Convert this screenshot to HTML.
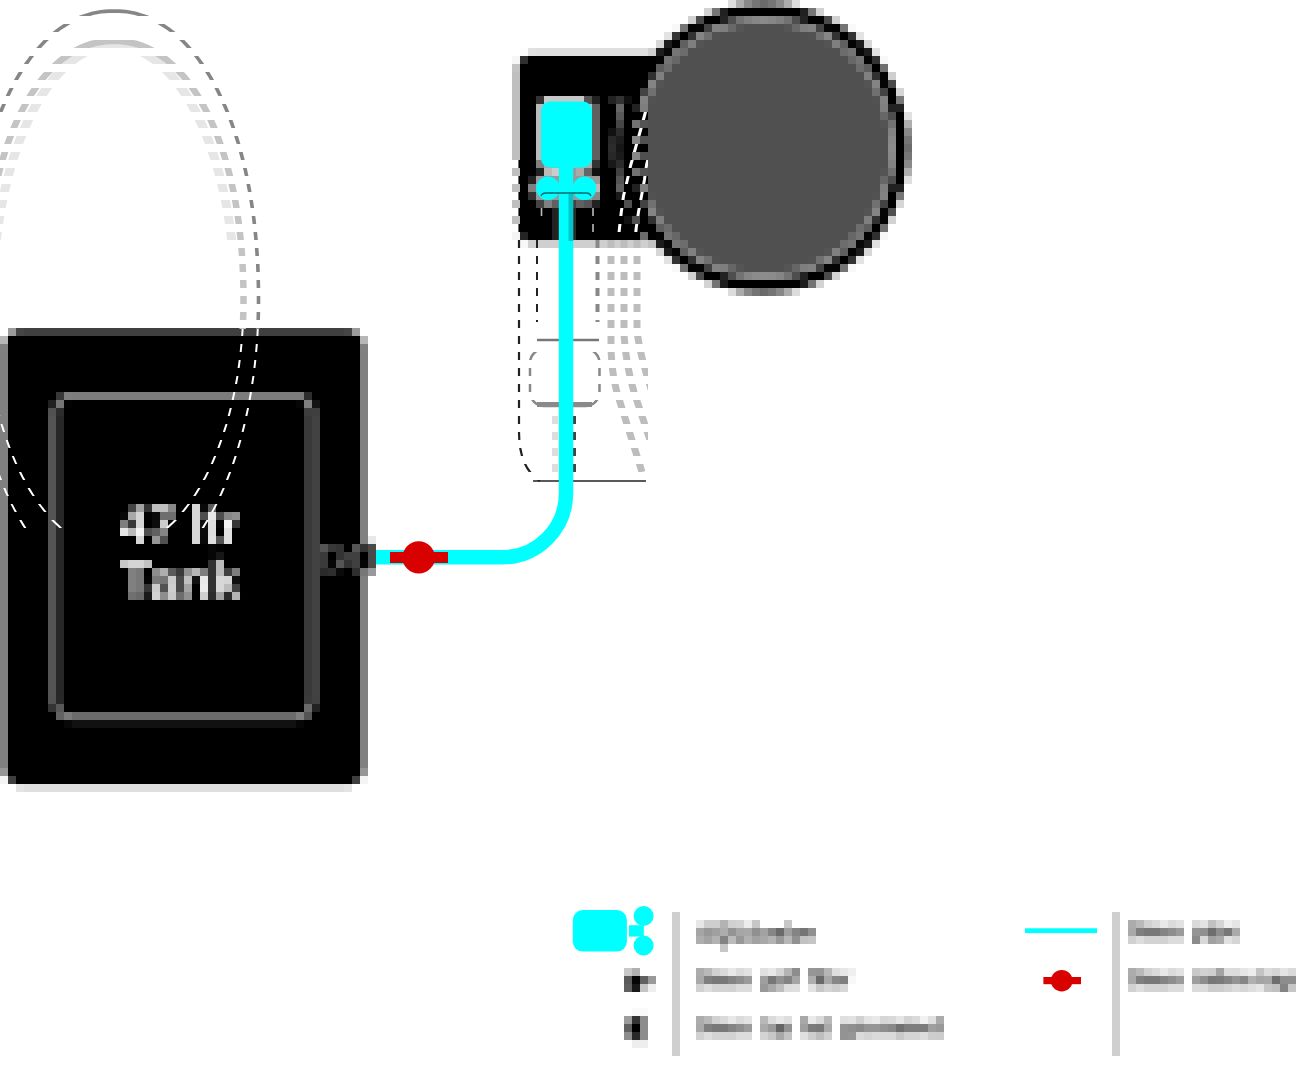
<!DOCTYPE html>
<html lang="en"><head><meta charset="utf-8"><title>47 ltr Tank layout</title>
<style>html,body{margin:0;padding:0;background:#fff;overflow:hidden}svg{display:block}</style></head>
<body>
<svg width="1296" height="1071" viewBox="0 0 1296 1071">
<defs>
<filter id="px" filterUnits="userSpaceOnUse" x="0" y="0" width="1296" height="1072" color-interpolation-filters="sRGB">
<feConvolveMatrix in="SourceGraphic" order="8 1" kernelMatrix="1 1 1 1 1 1 1 1" divisor="8" targetX="3" targetY="0" edgeMode="duplicate" preserveAlpha="false" result="bx"/>
<feConvolveMatrix in="bx" order="1 8" kernelMatrix="1 1 1 1 1 1 1 1" divisor="8" targetX="0" targetY="3" edgeMode="duplicate" preserveAlpha="false" result="blur"/>
<feFlood x="3" y="3" width="1" height="1" flood-color="#000" result="dot"/>
<feComposite in="dot" in2="dot" operator="over" x="0" y="0" width="8" height="8" result="cell"/>
<feTile in="cell" x="0" y="0" width="1296" height="1072" result="grid"/>
<feComposite in="blur" in2="grid" operator="in" result="samp"/>
<feMorphology in="samp" operator="dilate" radius="3" result="d7"/>
<feOffset in="d7" dx="1" dy="0" result="o1"/>
<feOffset in="d7" dx="0" dy="1" result="o2"/>
<feOffset in="d7" dx="1" dy="1" result="o3"/>
<feMerge><feMergeNode in="o3"/><feMergeNode in="o2"/><feMergeNode in="o1"/><feMergeNode in="d7"/></feMerge>
</filter>
<pattern id="pOdd" patternUnits="userSpaceOnUse" x="0" y="0" width="16" height="16"><rect x="0" y="8" width="16" height="8" fill="#fff"/></pattern>
<pattern id="pEven" patternUnits="userSpaceOnUse" x="0" y="0" width="16" height="16"><rect x="0" y="0" width="16" height="8" fill="#fff"/></pattern>
<mask id="stripeOdd" maskUnits="userSpaceOnUse" x="0" y="0" width="1296" height="1071"><rect width="1296" height="1071" fill="url(#pOdd)"/></mask>
<mask id="stripeEven" maskUnits="userSpaceOnUse" x="0" y="0" width="1296" height="1071"><rect width="1296" height="1071" fill="url(#pEven)"/></mask>
<clipPath id="outsideTank"><rect x="0" y="0" width="400" height="329"/></clipPath>
<clipPath id="insideTank"><rect x="0" y="329" width="360" height="199"/></clipPath>
<clipPath id="potclip"><rect x="600" y="240" width="48" height="240"/></clipPath>
<clipPath id="boxclip"><rect x="600" y="104" width="48" height="136"/></clipPath>
</defs>
<g filter="url(#px)">
<rect x="0" y="0" width="1296" height="1072" fill="#fff"/>
<rect x="4" y="330" width="360" height="455" rx="17" fill="#000"/>
<rect x="55" y="396" width="257.2" height="322" rx="17" fill="none" stroke="#b4b4b4" stroke-width="5.5"/>
<text x="180" y="544" font-family="Liberation Sans, Arial, sans-serif" font-size="55" font-weight="bold" fill="#fff" text-anchor="middle" textLength="121" lengthAdjust="spacingAndGlyphs">47 ltr</text>
<text x="180" y="599" font-family="Liberation Sans, Arial, sans-serif" font-size="55" font-weight="bold" fill="#fff" text-anchor="middle" textLength="121" lengthAdjust="spacingAndGlyphs">Tank</text>
<rect x="360" y="536" width="8" height="8" fill="#808080"/><rect x="368" y="536" width="8" height="8" fill="#e8e8e8"/><rect x="320" y="544" width="8" height="8" fill="#555"/><rect x="328" y="544" width="8" height="8" fill="#383838"/><rect x="336" y="544" width="8" height="8" fill="#333"/><rect x="344" y="544" width="8" height="8" fill="#000"/><rect x="352" y="544" width="8" height="8" fill="#555"/><rect x="360" y="544" width="8" height="8" fill="#333"/><rect x="368" y="544" width="8" height="8" fill="#4a4a4a"/><rect x="320" y="552" width="8" height="8" fill="#3a3a3a"/><rect x="328" y="552" width="8" height="8" fill="#000"/><rect x="336" y="552" width="8" height="8" fill="#333"/><rect x="344" y="552" width="8" height="8" fill="#404040"/><rect x="352" y="552" width="8" height="8" fill="#404040"/><rect x="360" y="552" width="8" height="8" fill="#000"/><rect x="368" y="552" width="8" height="8" fill="#4a4a4a"/><rect x="320" y="560" width="8" height="8" fill="#3a3a3a"/><rect x="328" y="560" width="8" height="8" fill="#060606"/><rect x="336" y="560" width="8" height="8" fill="#555"/><rect x="344" y="560" width="8" height="8" fill="#333"/><rect x="352" y="560" width="8" height="8" fill="#404040"/><rect x="360" y="560" width="8" height="8" fill="#050505"/><rect x="368" y="560" width="8" height="8" fill="#4a4a4a"/><rect x="320" y="568" width="8" height="8" fill="#2a2a2a"/><rect x="328" y="568" width="8" height="8" fill="#2e2e2e"/><rect x="336" y="568" width="8" height="8" fill="#0a0a0a"/><rect x="344" y="568" width="8" height="8" fill="#000"/><rect x="352" y="568" width="8" height="8" fill="#2e2e2e"/><rect x="360" y="568" width="8" height="8" fill="#777"/><rect x="368" y="568" width="8" height="8" fill="#999"/>
<rect x="518" y="55" width="160" height="186.5" rx="13" fill="#000"/>
<rect x="536" y="96" width="8" height="8" fill="#333"/><rect x="544" y="96" width="8" height="8" fill="#c8c8c8"/><rect x="552" y="96" width="8" height="8" fill="#c8c8c8"/><rect x="560" y="96" width="8" height="8" fill="#c8c8c8"/><rect x="568" y="96" width="8" height="8" fill="#c8c8c8"/><rect x="576" y="96" width="8" height="8" fill="#c8c8c8"/><rect x="584" y="96" width="8" height="8" fill="#555"/><rect x="592" y="96" width="8" height="8" fill="#222"/><rect x="536" y="104" width="8" height="8" fill="#bbb"/><rect x="544" y="104" width="8" height="8" fill="#bbb"/><rect x="552" y="104" width="8" height="8" fill="#bbb"/><rect x="560" y="104" width="8" height="8" fill="#bbb"/><rect x="568" y="104" width="8" height="8" fill="#bbb"/><rect x="576" y="104" width="8" height="8" fill="#bbb"/><rect x="584" y="104" width="8" height="8" fill="#bbb"/><rect x="592" y="104" width="8" height="8" fill="#606060"/><rect x="536" y="112" width="8" height="8" fill="#bbb"/><rect x="544" y="112" width="8" height="8" fill="#bbb"/><rect x="552" y="112" width="8" height="8" fill="#bbb"/><rect x="560" y="112" width="8" height="8" fill="#bbb"/><rect x="568" y="112" width="8" height="8" fill="#bbb"/><rect x="576" y="112" width="8" height="8" fill="#bbb"/><rect x="584" y="112" width="8" height="8" fill="#bbb"/><rect x="592" y="112" width="8" height="8" fill="#606060"/><rect x="536" y="120" width="8" height="8" fill="#bbb"/><rect x="544" y="120" width="8" height="8" fill="#bbb"/><rect x="552" y="120" width="8" height="8" fill="#bbb"/><rect x="560" y="120" width="8" height="8" fill="#bbb"/><rect x="568" y="120" width="8" height="8" fill="#bbb"/><rect x="576" y="120" width="8" height="8" fill="#bbb"/><rect x="584" y="120" width="8" height="8" fill="#bbb"/><rect x="592" y="120" width="8" height="8" fill="#606060"/><rect x="536" y="128" width="8" height="8" fill="#bbb"/><rect x="544" y="128" width="8" height="8" fill="#bbb"/><rect x="552" y="128" width="8" height="8" fill="#bbb"/><rect x="560" y="128" width="8" height="8" fill="#bbb"/><rect x="568" y="128" width="8" height="8" fill="#bbb"/><rect x="576" y="128" width="8" height="8" fill="#bbb"/><rect x="584" y="128" width="8" height="8" fill="#bbb"/><rect x="592" y="128" width="8" height="8" fill="#606060"/><rect x="536" y="136" width="8" height="8" fill="#bbb"/><rect x="544" y="136" width="8" height="8" fill="#bbb"/><rect x="552" y="136" width="8" height="8" fill="#bbb"/><rect x="560" y="136" width="8" height="8" fill="#bbb"/><rect x="568" y="136" width="8" height="8" fill="#bbb"/><rect x="576" y="136" width="8" height="8" fill="#bbb"/><rect x="584" y="136" width="8" height="8" fill="#bbb"/><rect x="592" y="136" width="8" height="8" fill="#606060"/><rect x="536" y="144" width="8" height="8" fill="#bbb"/><rect x="544" y="144" width="8" height="8" fill="#bbb"/><rect x="552" y="144" width="8" height="8" fill="#bbb"/><rect x="560" y="144" width="8" height="8" fill="#bbb"/><rect x="568" y="144" width="8" height="8" fill="#bbb"/><rect x="576" y="144" width="8" height="8" fill="#bbb"/><rect x="584" y="144" width="8" height="8" fill="#bbb"/><rect x="592" y="144" width="8" height="8" fill="#606060"/><rect x="536" y="152" width="8" height="8" fill="#bbb"/><rect x="544" y="152" width="8" height="8" fill="#bbb"/><rect x="552" y="152" width="8" height="8" fill="#bbb"/><rect x="560" y="152" width="8" height="8" fill="#bbb"/><rect x="568" y="152" width="8" height="8" fill="#bbb"/><rect x="576" y="152" width="8" height="8" fill="#bbb"/><rect x="584" y="152" width="8" height="8" fill="#bbb"/><rect x="592" y="152" width="8" height="8" fill="#606060"/><rect x="536" y="160" width="8" height="8" fill="#808080"/><rect x="544" y="160" width="8" height="8" fill="#aaa"/><rect x="552" y="160" width="8" height="8" fill="#aaa"/><rect x="560" y="160" width="8" height="8" fill="#aaa"/><rect x="568" y="160" width="8" height="8" fill="#aaa"/><rect x="576" y="160" width="8" height="8" fill="#aaa"/><rect x="584" y="160" width="8" height="8" fill="#aaa"/><rect x="592" y="160" width="8" height="8" fill="#333"/><rect x="536" y="168" width="8" height="8" fill="#222"/><rect x="544" y="168" width="8" height="8" fill="#bbb"/><rect x="552" y="168" width="8" height="8" fill="#ccc"/><rect x="560" y="168" width="8" height="8" fill="#999"/><rect x="568" y="168" width="8" height="8" fill="#999"/><rect x="576" y="168" width="8" height="8" fill="#aaa"/><rect x="584" y="168" width="8" height="8" fill="#666"/><rect x="592" y="168" width="8" height="8" fill="#111"/><rect x="528" y="176" width="8" height="8" fill="#222"/><rect x="536" y="176" width="8" height="8" fill="#999"/><rect x="544" y="176" width="8" height="8" fill="#999"/><rect x="552" y="176" width="8" height="8" fill="#999"/><rect x="560" y="176" width="8" height="8" fill="#999"/><rect x="568" y="176" width="8" height="8" fill="#999"/><rect x="576" y="176" width="8" height="8" fill="#999"/><rect x="584" y="176" width="8" height="8" fill="#999"/><rect x="592" y="176" width="8" height="8" fill="#999"/><rect x="528" y="184" width="8" height="8" fill="#808080"/><rect x="536" y="184" width="8" height="8" fill="#aaa"/><rect x="544" y="184" width="8" height="8" fill="#aaa"/><rect x="552" y="184" width="8" height="8" fill="#aaa"/><rect x="560" y="184" width="8" height="8" fill="#aaa"/><rect x="568" y="184" width="8" height="8" fill="#aaa"/><rect x="576" y="184" width="8" height="8" fill="#aaa"/><rect x="584" y="184" width="8" height="8" fill="#aaa"/><rect x="592" y="184" width="8" height="8" fill="#bbb"/><rect x="528" y="192" width="8" height="8" fill="#333"/><rect x="536" y="192" width="8" height="8" fill="#999"/><rect x="544" y="192" width="8" height="8" fill="#999"/><rect x="552" y="192" width="8" height="8" fill="#999"/><rect x="560" y="192" width="8" height="8" fill="#999"/><rect x="568" y="192" width="8" height="8" fill="#999"/><rect x="576" y="192" width="8" height="8" fill="#999"/><rect x="584" y="192" width="8" height="8" fill="#999"/><rect x="592" y="192" width="8" height="8" fill="#888"/><rect x="536" y="200" width="8" height="8" fill="#444"/><rect x="544" y="200" width="8" height="8" fill="#808080"/><rect x="552" y="200" width="8" height="8" fill="#606060"/><rect x="560" y="200" width="8" height="8" fill="#444"/><rect x="568" y="200" width="8" height="8" fill="#444"/><rect x="576" y="200" width="8" height="8" fill="#606060"/><rect x="584" y="200" width="8" height="8" fill="#555"/><rect x="592" y="200" width="8" height="8" fill="#222"/>
<rect x="552" y="208" width="8" height="32" fill="#222"/><rect x="568" y="208" width="8" height="32" fill="#2a2a2a"/>
<rect x="608" y="96" width="8" height="8" fill="#222"/><rect x="616" y="96" width="8" height="8" fill="#333"/><rect x="624" y="96" width="8" height="8" fill="#222"/><rect x="632" y="96" width="8" height="8" fill="#444"/><rect x="640" y="96" width="8" height="8" fill="#888"/><rect x="616" y="104" width="8" height="8" fill="#666"/><rect x="632" y="104" width="8" height="8" fill="#606060"/><rect x="640" y="104" width="8" height="8" fill="#585858"/><rect x="616" y="112" width="8" height="8" fill="#666"/><rect x="632" y="112" width="8" height="8" fill="#707070"/><rect x="640" y="112" width="8" height="8" fill="#585858"/><rect x="616" y="120" width="8" height="8" fill="#666"/><rect x="632" y="120" width="8" height="8" fill="#888"/><rect x="640" y="120" width="8" height="8" fill="#585858"/><rect x="608" y="128" width="8" height="8" fill="#111"/><rect x="616" y="128" width="8" height="8" fill="#505050"/><rect x="624" y="128" width="8" height="8" fill="#111"/><rect x="632" y="128" width="8" height="8" fill="#707070"/><rect x="640" y="128" width="8" height="8" fill="#585858"/><rect x="608" y="136" width="8" height="8" fill="#282828"/><rect x="616" y="136" width="8" height="8" fill="#404040"/><rect x="624" y="136" width="8" height="8" fill="#333"/><rect x="632" y="136" width="8" height="8" fill="#707070"/><rect x="640" y="136" width="8" height="8" fill="#585858"/><rect x="608" y="144" width="8" height="8" fill="#2c2c2c"/><rect x="616" y="144" width="8" height="8" fill="#333"/><rect x="624" y="144" width="8" height="8" fill="#333"/><rect x="632" y="144" width="8" height="8" fill="#707070"/><rect x="640" y="144" width="8" height="8" fill="#585858"/><rect x="608" y="152" width="8" height="8" fill="#282828"/><rect x="616" y="152" width="8" height="8" fill="#3a3a3a"/><rect x="624" y="152" width="8" height="8" fill="#333"/><rect x="632" y="152" width="8" height="8" fill="#707070"/><rect x="640" y="152" width="8" height="8" fill="#585858"/><rect x="608" y="160" width="8" height="8" fill="#181818"/><rect x="616" y="160" width="8" height="8" fill="#505050"/><rect x="624" y="160" width="8" height="8" fill="#111"/><rect x="632" y="160" width="8" height="8" fill="#808080"/><rect x="640" y="160" width="8" height="8" fill="#585858"/><rect x="616" y="168" width="8" height="8" fill="#606060"/><rect x="632" y="168" width="8" height="8" fill="#888"/><rect x="640" y="168" width="8" height="8" fill="#585858"/><rect x="616" y="176" width="8" height="8" fill="#606060"/><rect x="632" y="176" width="8" height="8" fill="#808080"/><rect x="640" y="176" width="8" height="8" fill="#585858"/><rect x="616" y="184" width="8" height="8" fill="#606060"/><rect x="632" y="184" width="8" height="8" fill="#707070"/><rect x="640" y="184" width="8" height="8" fill="#585858"/><rect x="616" y="192" width="8" height="8" fill="#1a1a1a"/><rect x="632" y="192" width="8" height="8" fill="#333"/><rect x="640" y="192" width="8" height="8" fill="#585858"/><rect x="624" y="200" width="8" height="8" fill="#606060"/><rect x="640" y="200" width="8" height="8" fill="#808080"/><rect x="624" y="208" width="8" height="8" fill="#444"/><rect x="640" y="208" width="8" height="8" fill="#333"/><rect x="624" y="216" width="8" height="8" fill="#111"/><rect x="632" y="216" width="8" height="8" fill="#606060"/><rect x="632" y="224" width="8" height="8" fill="#222"/><rect x="640" y="224" width="8" height="8" fill="#333"/><rect x="640" y="232" width="8" height="8" fill="#707070"/>
<circle cx="764" cy="148" r="144.7" fill="#000"/>
<circle cx="764" cy="148" r="132" fill="#a0a0a0"/>
<circle cx="764" cy="148" r="126" fill="#505050"/>
<rect x="672" y="912" width="8" height="144" fill="#cfcfcf"/>
<rect x="1112" y="912" width="8" height="144" fill="#cfcfcf"/>
<text x="697.0" y="942" font-family="Liberation Sans, Arial, sans-serif" font-size="26" font-weight="bold" fill="#111" textLength="118.0" lengthAdjust="spacingAndGlyphs">AQUAvalve</text>
<text x="697.0" y="987" font-family="Liberation Sans, Arial, sans-serif" font-size="24" font-weight="bold" fill="#111" textLength="54.0" lengthAdjust="spacingAndGlyphs">9mm</text><text x="760.5" y="987" font-family="Liberation Sans, Arial, sans-serif" font-size="24" font-weight="bold" fill="#111" textLength="39.0" lengthAdjust="spacingAndGlyphs">golf</text><text x="808.5" y="987" font-family="Liberation Sans, Arial, sans-serif" font-size="24" font-weight="bold" fill="#111" textLength="42.0" lengthAdjust="spacingAndGlyphs">filter</text>
<text x="697.0" y="1035" font-family="Liberation Sans, Arial, sans-serif" font-size="24" font-weight="bold" fill="#111" textLength="54.0" lengthAdjust="spacingAndGlyphs">9mm</text><text x="760.5" y="1035" font-family="Liberation Sans, Arial, sans-serif" font-size="24" font-weight="bold" fill="#111" textLength="32.0" lengthAdjust="spacingAndGlyphs">top</text><text x="800.5" y="1035" font-family="Liberation Sans, Arial, sans-serif" font-size="24" font-weight="bold" fill="#111" textLength="31.0" lengthAdjust="spacingAndGlyphs">hat</text><text x="840.0" y="1035" font-family="Liberation Sans, Arial, sans-serif" font-size="24" font-weight="bold" fill="#111" textLength="104.0" lengthAdjust="spacingAndGlyphs">grommet</text>
<text x="1129.0" y="939" font-family="Liberation Sans, Arial, sans-serif" font-size="24" font-weight="bold" fill="#111" textLength="54.0" lengthAdjust="spacingAndGlyphs">9mm</text><text x="1192.0" y="939" font-family="Liberation Sans, Arial, sans-serif" font-size="24" font-weight="bold" fill="#111" textLength="47.0" lengthAdjust="spacingAndGlyphs">pipe</text>
<text x="1129.0" y="987" font-family="Liberation Sans, Arial, sans-serif" font-size="24" font-weight="bold" fill="#111" textLength="54.0" lengthAdjust="spacingAndGlyphs">9mm</text><text x="1192.0" y="987" font-family="Liberation Sans, Arial, sans-serif" font-size="24" font-weight="bold" fill="#111" textLength="62.0" lengthAdjust="spacingAndGlyphs">inline</text><text x="1259.0" y="987" font-family="Liberation Sans, Arial, sans-serif" font-size="24" font-weight="bold" fill="#111" textLength="38.0" lengthAdjust="spacingAndGlyphs">tap</text>
<rect x="624" y="968" width="8" height="8" fill="#c8c8c8"/><rect x="632" y="968" width="8" height="8" fill="#b0b0b0"/><rect x="624" y="976" width="8" height="8" fill="#5a5a5a"/><rect x="632" y="976" width="8" height="8" fill="#050505"/><rect x="640" y="976" width="8" height="8" fill="#606060"/><rect x="648" y="976" width="8" height="8" fill="#999"/><rect x="624" y="984" width="8" height="8" fill="#606060"/><rect x="632" y="984" width="8" height="8" fill="#181818"/><rect x="640" y="984" width="8" height="8" fill="#c4c4c4"/><rect x="648" y="984" width="8" height="8" fill="#eee"/>
<rect x="632" y="1008" width="8" height="8" fill="#fafafa"/><rect x="640" y="1008" width="8" height="8" fill="#fafafa"/><rect x="624" y="1016" width="8" height="8" fill="#9c9c9c"/><rect x="632" y="1016" width="8" height="8" fill="#333"/><rect x="640" y="1016" width="8" height="8" fill="#8c8c8c"/><rect x="624" y="1024" width="8" height="8" fill="#606060"/><rect x="632" y="1024" width="8" height="8" fill="#000"/><rect x="640" y="1024" width="8" height="8" fill="#8c8c8c"/><rect x="624" y="1032" width="8" height="8" fill="#8c8c8c"/><rect x="632" y="1032" width="8" height="8" fill="#282828"/><rect x="640" y="1032" width="8" height="8" fill="#8c8c8c"/><rect x="632" y="1040" width="8" height="8" fill="#eee"/><rect x="640" y="1040" width="8" height="8" fill="#eee"/>
</g>
<g mask="url(#stripeOdd)">
<g clip-path="url(#outsideTank)" fill="none">
<path d="M-4.1 244.4 L-3.5 238.8 L-2.8 233.2 L-2.0 227.7 L-1.2 222.2 L-0.4 216.8 L0.5 211.4 L1.5 206.0 L2.6 200.7 L3.6 195.4 L4.8 190.2 L6.0 185.1 L7.2 180.0 L8.6 174.9 L9.9 170.0 L11.3 165.1 L12.8 160.2 L14.3 155.5 L15.9 150.8 L17.5 146.1 L19.2 141.6 L20.9 137.1 L22.7 132.8 L24.5 128.5 L26.3 124.3 L28.2 120.2 L30.2 116.1 L32.1 112.2 L34.2 108.4 L36.2 104.6 L38.3 101.0 L40.5 97.5 L42.7 94.0 L44.9 90.7 L47.1 87.5 L49.4 84.3 L51.8 81.3 L54.1 78.4 L56.5 75.6 L58.9 73.0 L61.3 70.4 L63.8 68.0 L66.3 65.7 L68.8 63.5 L71.3 61.4 L73.9 59.4 L76.5 57.6 L79.1 55.8 L81.7 54.3 L84.3 52.8 L87.0 51.4 L89.6 50.2 L92.3 49.1 L95.0 48.2 L97.7 47.3 L100.4 46.6 L103.1 46.0 L105.8 45.6 L108.6 45.3 L111.3 45.1 L114.0 45.0 L116.7 45.1 L119.4 45.3 L122.2 45.6 L124.9 46.0 L127.6 46.6 L130.3 47.3 L133.0 48.2 L135.7 49.1 L138.4 50.2 L141.0 51.4 L143.7 52.8 L146.3 54.3 L148.9 55.8 L151.5 57.6 L154.1 59.4 L156.7 61.4 L159.2 63.5 L161.7 65.7 L164.2 68.0 L166.7 70.4 L169.1 73.0 L171.5 75.6 L173.9 78.4 L176.2 81.3 L178.6 84.3 L180.9 87.5 L183.1 90.7 L185.3 94.0 L187.5 97.5 L189.7 101.0 L191.8 104.6 L193.8 108.4 L195.9 112.2 L197.8 116.1 L199.8 120.2 L201.7 124.3 L203.5 128.5 L205.3 132.8 L207.1 137.1 L208.8 141.6 L210.5 146.1 L212.1 150.8 L213.7 155.5 L215.2 160.2 L216.7 165.1 L218.1 170.0 L219.4 174.9 L220.8 180.0 L222.0 185.1 L223.2 190.2 L224.4 195.4 L225.4 200.7 L226.5 206.0 L227.5 211.4 L228.4 216.8 L229.2 222.2 L230.0 227.7 L230.8 233.2 L231.5 238.8 L232.1 244.4" stroke="#e6e6e6" stroke-width="9"/>
<path d="M114.0 550.0 L110.6 549.9 L107.2 549.7 L103.8 549.2 L100.5 548.6 L97.1 547.9 L93.7 546.9 L90.4 545.8 L87.1 544.5 L83.8 543.1 L80.5 541.5 L77.2 539.7 L74.0 537.8 L70.8 535.7 L67.6 533.4 L64.4 531.0 L61.3 528.4 L58.2 525.6 L55.2 522.8 L52.2 519.7 L49.2 516.5 L46.3 513.2 L43.5 509.7 L40.7 506.0 L37.9 502.3 L35.2 498.3 L32.5 494.3 L29.9 490.1 L27.3 485.8 L24.9 481.3 L22.4 476.8 L20.1 472.1 L17.8 467.3 L15.5 462.4 L13.4 457.3 L11.3 452.2 L9.2 446.9 L7.3 441.6 L5.4 436.2 L3.6 430.6 L1.8 425.0 L0.2 419.3 L-1.4 413.5 L-2.9 407.6 L-4.3 401.7 L-5.6 395.7 L-6.9 389.6 L-8.1 383.5 L-9.2 377.3 L-10.2 371.0 L-11.1 364.7 L-11.9 358.4 L-12.7 352.0 L-13.3 345.6 L-13.9 339.1 L-14.4 332.6 L-14.8 326.1 L-15.1 319.6 L-15.3 313.1 L-15.5 306.5 L-15.5 300.0 L-15.5 291.7 L-15.3 284.0 L-15.1 276.5 L-14.8 269.2 L-14.5 262.1 L-14.0 255.0 L-13.5 248.0 L-12.8 241.1 L-12.1 234.3 L-11.3 227.6 L-10.5 221.0 L-9.5 214.5 L-8.5 208.0 L-7.4 201.6 L-6.2 195.3 L-4.9 189.2 L-3.6 183.0 L-2.1 177.0 L-0.6 171.1 L0.9 165.3 L2.6 159.6 L4.3 154.0 L6.1 148.5 L8.0 143.1 L9.9 137.8 L11.9 132.7 L14.0 127.6 L16.1 122.7 L18.3 117.9 L20.6 113.2 L23.0 108.7 L25.4 104.3 L27.8 100.0 L30.3 95.8 L32.9 91.8 L35.6 87.9 L38.3 84.2 L41.0 80.6 L43.8 77.2 L46.7 73.9 L49.6 70.7 L52.5 67.7 L55.5 64.9 L58.6 62.2 L61.7 59.6 L64.8 57.3 L68.0 55.0 L71.2 53.0 L74.5 51.1 L77.8 49.3 L81.2 47.8 L84.6 46.3 L88.0 45.1 L91.5 44.0 L95.0 43.1 L98.6 42.3 L102.3 41.8 L106.0 41.3 L109.8 41.1 L114.0 41.0 L118.2 41.1 L122.0 41.3 L125.7 41.8 L129.4 42.3 L133.0 43.1 L136.5 44.0 L140.0 45.1 L143.4 46.3 L146.8 47.8 L150.2 49.3 L153.5 51.1 L156.8 53.0 L160.0 55.0 L163.2 57.3 L166.3 59.6 L169.4 62.2 L172.5 64.9 L175.5 67.7 L178.4 70.7 L181.3 73.9 L184.2 77.2 L187.0 80.6 L189.7 84.2 L192.4 87.9 L195.1 91.8 L197.7 95.8 L200.2 100.0 L202.6 104.3 L205.0 108.7 L207.4 113.2 L209.7 117.9 L211.9 122.7 L214.0 127.6 L216.1 132.7 L218.1 137.8 L220.0 143.1 L221.9 148.5 L223.7 154.0 L225.4 159.6 L227.1 165.3 L228.6 171.1 L230.1 177.0 L231.6 183.0 L232.9 189.2 L234.2 195.3 L235.4 201.6 L236.5 208.0 L237.5 214.5 L238.5 221.0 L239.3 227.6 L240.1 234.3 L240.8 241.1 L241.5 248.0 L242.0 255.0 L242.5 262.1 L242.8 269.2 L243.1 276.5 L243.3 284.0 L243.5 291.7 L243.5 300.0 L243.5 306.5 L243.3 313.1 L243.1 319.6 L242.8 326.1 L242.4 332.6 L241.9 339.1 L241.3 345.6 L240.7 352.0 L239.9 358.4 L239.1 364.7 L238.2 371.0 L237.2 377.3 L236.1 383.5 L234.9 389.6 L233.6 395.7 L232.3 401.7 L230.9 407.6 L229.4 413.5 L227.8 419.3 L226.2 425.0 L224.4 430.6 L222.6 436.2 L220.7 441.6 L218.8 446.9 L216.7 452.2 L214.6 457.3 L212.5 462.4 L210.2 467.3 L207.9 472.1 L205.6 476.8 L203.1 481.3 L200.7 485.8 L198.1 490.1 L195.5 494.3 L192.8 498.3 L190.1 502.3 L187.3 506.0 L184.5 509.7 L181.7 513.2 L178.7 516.5 L175.8 519.7 L172.8 522.8 L169.8 525.6 L166.7 528.4 L163.6 531.0 L160.4 533.4 L157.2 535.7 L154.0 537.8 L150.8 539.7 L147.5 541.5 L144.2 543.1 L140.9 544.5 L137.6 545.8 L134.3 546.9 L130.9 547.9 L127.5 548.6 L124.2 549.2 L120.8 549.7 L117.4 549.9 L114.0 550.0" stroke="#c4c4c4" stroke-width="6.5"/>
<path d="M114.0 589.0 L110.2 588.9 L106.4 588.6 L102.7 588.1 L98.9 587.4 L95.1 586.5 L91.4 585.4 L87.7 584.2 L84.0 582.7 L80.3 581.0 L76.6 579.2 L73.0 577.1 L69.3 574.9 L65.8 572.4 L62.2 569.8 L58.7 567.0 L55.2 564.0 L51.8 560.8 L48.4 557.5 L45.1 554.0 L41.7 550.3 L38.5 546.4 L35.3 542.4 L32.2 538.2 L29.1 533.8 L26.0 529.3 L23.1 524.6 L20.2 519.8 L17.3 514.8 L14.5 509.6 L11.8 504.4 L9.2 498.9 L6.6 493.4 L4.1 487.7 L1.7 481.9 L-0.6 475.9 L-2.9 469.9 L-5.1 463.7 L-7.2 457.4 L-9.2 451.0 L-11.1 444.5 L-13.0 437.9 L-14.8 431.2 L-16.4 424.4 L-18.0 417.5 L-19.5 410.6 L-20.9 403.6 L-22.2 396.5 L-23.4 389.3 L-24.5 382.1 L-25.6 374.8 L-26.5 367.5 L-27.3 360.1 L-28.1 352.7 L-28.7 345.2 L-29.3 337.7 L-29.7 330.2 L-30.1 322.7 L-30.3 315.1 L-30.5 307.6 L-30.5 300.0 L-30.5 290.7 L-30.3 282.1 L-30.1 273.8 L-29.8 265.7 L-29.3 257.7 L-28.8 249.8 L-28.2 242.0 L-27.5 234.3 L-26.7 226.7 L-25.9 219.3 L-24.9 211.9 L-23.8 204.6 L-22.7 197.3 L-21.4 190.2 L-20.1 183.2 L-18.7 176.3 L-17.2 169.5 L-15.6 162.8 L-13.9 156.2 L-12.2 149.7 L-10.3 143.3 L-8.4 137.1 L-6.4 131.0 L-4.3 124.9 L-2.2 119.1 L0.1 113.3 L2.4 107.7 L4.8 102.2 L7.3 96.8 L9.8 91.6 L12.4 86.5 L15.1 81.6 L17.8 76.8 L20.6 72.2 L23.5 67.7 L26.5 63.4 L29.5 59.2 L32.5 55.2 L35.7 51.4 L38.9 47.7 L42.1 44.2 L45.4 40.8 L48.8 37.6 L52.2 34.6 L55.6 31.8 L59.1 29.1 L62.7 26.7 L66.3 24.4 L69.9 22.2 L73.6 20.3 L77.4 18.5 L81.2 17.0 L85.0 15.6 L88.9 14.4 L92.8 13.3 L96.8 12.5 L100.9 11.8 L105.1 11.4 L109.4 11.1 L114.0 11.0 L118.6 11.1 L122.9 11.4 L127.1 11.8 L131.2 12.5 L135.2 13.3 L139.1 14.4 L143.0 15.6 L146.8 17.0 L150.6 18.5 L154.4 20.3 L158.1 22.2 L161.7 24.4 L165.3 26.7 L168.9 29.1 L172.4 31.8 L175.8 34.6 L179.2 37.6 L182.6 40.8 L185.9 44.2 L189.1 47.7 L192.3 51.4 L195.5 55.2 L198.5 59.2 L201.5 63.4 L204.5 67.7 L207.4 72.2 L210.2 76.8 L212.9 81.6 L215.6 86.5 L218.2 91.6 L220.7 96.8 L223.2 102.2 L225.6 107.7 L227.9 113.3 L230.2 119.1 L232.3 124.9 L234.4 131.0 L236.4 137.1 L238.3 143.3 L240.2 149.7 L241.9 156.2 L243.6 162.8 L245.2 169.5 L246.7 176.3 L248.1 183.2 L249.4 190.2 L250.7 197.3 L251.8 204.6 L252.9 211.9 L253.9 219.3 L254.7 226.7 L255.5 234.3 L256.2 242.0 L256.8 249.8 L257.3 257.7 L257.8 265.7 L258.1 273.8 L258.3 282.1 L258.5 290.7 L258.5 300.0 L258.5 307.6 L258.3 315.1 L258.1 322.7 L257.7 330.2 L257.3 337.7 L256.7 345.2 L256.1 352.7 L255.3 360.1 L254.5 367.5 L253.6 374.8 L252.5 382.1 L251.4 389.3 L250.2 396.5 L248.9 403.6 L247.5 410.6 L246.0 417.5 L244.4 424.4 L242.8 431.2 L241.0 437.9 L239.1 444.5 L237.2 451.0 L235.2 457.4 L233.1 463.7 L230.9 469.9 L228.6 475.9 L226.3 481.9 L223.9 487.7 L221.4 493.4 L218.8 498.9 L216.2 504.4 L213.5 509.6 L210.7 514.8 L207.8 519.8 L204.9 524.6 L202.0 529.3 L198.9 533.8 L195.8 538.2 L192.7 542.4 L189.5 546.4 L186.2 550.3 L182.9 554.0 L179.6 557.5 L176.2 560.8 L172.8 564.0 L169.3 567.0 L165.8 569.8 L162.2 572.4 L158.7 574.9 L155.0 577.1 L151.4 579.2 L147.7 581.0 L144.0 582.7 L140.3 584.2 L136.6 585.4 L132.9 586.5 L129.1 587.4 L125.3 588.1 L121.6 588.6 L117.8 588.9 L114.0 589.0" stroke="#868686" stroke-width="3.6"/>
</g>
<g clip-path="url(#insideTank)" fill="none">
<path d="M114.0 589.0 L110.2 588.9 L106.4 588.6 L102.7 588.1 L98.9 587.4 L95.1 586.5 L91.4 585.4 L87.7 584.2 L84.0 582.7 L80.3 581.0 L76.6 579.2 L73.0 577.1 L69.3 574.9 L65.8 572.4 L62.2 569.8 L58.7 567.0 L55.2 564.0 L51.8 560.8 L48.4 557.5 L45.1 554.0 L41.7 550.3 L38.5 546.4 L35.3 542.4 L32.2 538.2 L29.1 533.8 L26.0 529.3 L23.1 524.6 L20.2 519.8 L17.3 514.8 L14.5 509.6 L11.8 504.4 L9.2 498.9 L6.6 493.4 L4.1 487.7 L1.7 481.9 L-0.6 475.9 L-2.9 469.9 L-5.1 463.7 L-7.2 457.4 L-9.2 451.0 L-11.1 444.5 L-13.0 437.9 L-14.8 431.2 L-16.4 424.4 L-18.0 417.5 L-19.5 410.6 L-20.9 403.6 L-22.2 396.5 L-23.4 389.3 L-24.5 382.1 L-25.6 374.8 L-26.5 367.5 L-27.3 360.1 L-28.1 352.7 L-28.7 345.2 L-29.3 337.7 L-29.7 330.2 L-30.1 322.7 L-30.3 315.1 L-30.5 307.6 L-30.5 300.0 L-30.5 290.7 L-30.3 282.1 L-30.1 273.8 L-29.8 265.7 L-29.3 257.7 L-28.8 249.8 L-28.2 242.0 L-27.5 234.3 L-26.7 226.7 L-25.9 219.3 L-24.9 211.9 L-23.8 204.6 L-22.7 197.3 L-21.4 190.2 L-20.1 183.2 L-18.7 176.3 L-17.2 169.5 L-15.6 162.8 L-13.9 156.2 L-12.2 149.7 L-10.3 143.3 L-8.4 137.1 L-6.4 131.0 L-4.3 124.9 L-2.2 119.1 L0.1 113.3 L2.4 107.7 L4.8 102.2 L7.3 96.8 L9.8 91.6 L12.4 86.5 L15.1 81.6 L17.8 76.8 L20.6 72.2 L23.5 67.7 L26.5 63.4 L29.5 59.2 L32.5 55.2 L35.7 51.4 L38.9 47.7 L42.1 44.2 L45.4 40.8 L48.8 37.6 L52.2 34.6 L55.6 31.8 L59.1 29.1 L62.7 26.7 L66.3 24.4 L69.9 22.2 L73.6 20.3 L77.4 18.5 L81.2 17.0 L85.0 15.6 L88.9 14.4 L92.8 13.3 L96.8 12.5 L100.9 11.8 L105.1 11.4 L109.4 11.1 L114.0 11.0 L118.6 11.1 L122.9 11.4 L127.1 11.8 L131.2 12.5 L135.2 13.3 L139.1 14.4 L143.0 15.6 L146.8 17.0 L150.6 18.5 L154.4 20.3 L158.1 22.2 L161.7 24.4 L165.3 26.7 L168.9 29.1 L172.4 31.8 L175.8 34.6 L179.2 37.6 L182.6 40.8 L185.9 44.2 L189.1 47.7 L192.3 51.4 L195.5 55.2 L198.5 59.2 L201.5 63.4 L204.5 67.7 L207.4 72.2 L210.2 76.8 L212.9 81.6 L215.6 86.5 L218.2 91.6 L220.7 96.8 L223.2 102.2 L225.6 107.7 L227.9 113.3 L230.2 119.1 L232.3 124.9 L234.4 131.0 L236.4 137.1 L238.3 143.3 L240.2 149.7 L241.9 156.2 L243.6 162.8 L245.2 169.5 L246.7 176.3 L248.1 183.2 L249.4 190.2 L250.7 197.3 L251.8 204.6 L252.9 211.9 L253.9 219.3 L254.7 226.7 L255.5 234.3 L256.2 242.0 L256.8 249.8 L257.3 257.7 L257.8 265.7 L258.1 273.8 L258.3 282.1 L258.5 290.7 L258.5 300.0 L258.5 307.6 L258.3 315.1 L258.1 322.7 L257.7 330.2 L257.3 337.7 L256.7 345.2 L256.1 352.7 L255.3 360.1 L254.5 367.5 L253.6 374.8 L252.5 382.1 L251.4 389.3 L250.2 396.5 L248.9 403.6 L247.5 410.6 L246.0 417.5 L244.4 424.4 L242.8 431.2 L241.0 437.9 L239.1 444.5 L237.2 451.0 L235.2 457.4 L233.1 463.7 L230.9 469.9 L228.6 475.9 L226.3 481.9 L223.9 487.7 L221.4 493.4 L218.8 498.9 L216.2 504.4 L213.5 509.6 L210.7 514.8 L207.8 519.8 L204.9 524.6 L202.0 529.3 L198.9 533.8 L195.8 538.2 L192.7 542.4 L189.5 546.4 L186.2 550.3 L182.9 554.0 L179.6 557.5 L176.2 560.8 L172.8 564.0 L169.3 567.0 L165.8 569.8 L162.2 572.4 L158.7 574.9 L155.0 577.1 L151.4 579.2 L147.7 581.0 L144.0 582.7 L140.3 584.2 L136.6 585.4 L132.9 586.5 L129.1 587.4 L125.3 588.1 L121.6 588.6 L117.8 588.9 L114.0 589.0" stroke="#fff" stroke-width="2"/>
<path d="M114.0 550.0 L110.6 549.9 L107.2 549.7 L103.8 549.2 L100.5 548.6 L97.1 547.9 L93.7 546.9 L90.4 545.8 L87.1 544.5 L83.8 543.1 L80.5 541.5 L77.2 539.7 L74.0 537.8 L70.8 535.7 L67.6 533.4 L64.4 531.0 L61.3 528.4 L58.2 525.6 L55.2 522.8 L52.2 519.7 L49.2 516.5 L46.3 513.2 L43.5 509.7 L40.7 506.0 L37.9 502.3 L35.2 498.3 L32.5 494.3 L29.9 490.1 L27.3 485.8 L24.9 481.3 L22.4 476.8 L20.1 472.1 L17.8 467.3 L15.5 462.4 L13.4 457.3 L11.3 452.2 L9.2 446.9 L7.3 441.6 L5.4 436.2 L3.6 430.6 L1.8 425.0 L0.2 419.3 L-1.4 413.5 L-2.9 407.6 L-4.3 401.7 L-5.6 395.7 L-6.9 389.6 L-8.1 383.5 L-9.2 377.3 L-10.2 371.0 L-11.1 364.7 L-11.9 358.4 L-12.7 352.0 L-13.3 345.6 L-13.9 339.1 L-14.4 332.6 L-14.8 326.1 L-15.1 319.6 L-15.3 313.1 L-15.5 306.5 L-15.5 300.0 L-15.5 291.7 L-15.3 284.0 L-15.1 276.5 L-14.8 269.2 L-14.5 262.1 L-14.0 255.0 L-13.5 248.0 L-12.8 241.1 L-12.1 234.3 L-11.3 227.6 L-10.5 221.0 L-9.5 214.5 L-8.5 208.0 L-7.4 201.6 L-6.2 195.3 L-4.9 189.2 L-3.6 183.0 L-2.1 177.0 L-0.6 171.1 L0.9 165.3 L2.6 159.6 L4.3 154.0 L6.1 148.5 L8.0 143.1 L9.9 137.8 L11.9 132.7 L14.0 127.6 L16.1 122.7 L18.3 117.9 L20.6 113.2 L23.0 108.7 L25.4 104.3 L27.8 100.0 L30.3 95.8 L32.9 91.8 L35.6 87.9 L38.3 84.2 L41.0 80.6 L43.8 77.2 L46.7 73.9 L49.6 70.7 L52.5 67.7 L55.5 64.9 L58.6 62.2 L61.7 59.6 L64.8 57.3 L68.0 55.0 L71.2 53.0 L74.5 51.1 L77.8 49.3 L81.2 47.8 L84.6 46.3 L88.0 45.1 L91.5 44.0 L95.0 43.1 L98.6 42.3 L102.3 41.8 L106.0 41.3 L109.8 41.1 L114.0 41.0 L118.2 41.1 L122.0 41.3 L125.7 41.8 L129.4 42.3 L133.0 43.1 L136.5 44.0 L140.0 45.1 L143.4 46.3 L146.8 47.8 L150.2 49.3 L153.5 51.1 L156.8 53.0 L160.0 55.0 L163.2 57.3 L166.3 59.6 L169.4 62.2 L172.5 64.9 L175.5 67.7 L178.4 70.7 L181.3 73.9 L184.2 77.2 L187.0 80.6 L189.7 84.2 L192.4 87.9 L195.1 91.8 L197.7 95.8 L200.2 100.0 L202.6 104.3 L205.0 108.7 L207.4 113.2 L209.7 117.9 L211.9 122.7 L214.0 127.6 L216.1 132.7 L218.1 137.8 L220.0 143.1 L221.9 148.5 L223.7 154.0 L225.4 159.6 L227.1 165.3 L228.6 171.1 L230.1 177.0 L231.6 183.0 L232.9 189.2 L234.2 195.3 L235.4 201.6 L236.5 208.0 L237.5 214.5 L238.5 221.0 L239.3 227.6 L240.1 234.3 L240.8 241.1 L241.5 248.0 L242.0 255.0 L242.5 262.1 L242.8 269.2 L243.1 276.5 L243.3 284.0 L243.5 291.7 L243.5 300.0 L243.5 306.5 L243.3 313.1 L243.1 319.6 L242.8 326.1 L242.4 332.6 L241.9 339.1 L241.3 345.6 L240.7 352.0 L239.9 358.4 L239.1 364.7 L238.2 371.0 L237.2 377.3 L236.1 383.5 L234.9 389.6 L233.6 395.7 L232.3 401.7 L230.9 407.6 L229.4 413.5 L227.8 419.3 L226.2 425.0 L224.4 430.6 L222.6 436.2 L220.7 441.6 L218.8 446.9 L216.7 452.2 L214.6 457.3 L212.5 462.4 L210.2 467.3 L207.9 472.1 L205.6 476.8 L203.1 481.3 L200.7 485.8 L198.1 490.1 L195.5 494.3 L192.8 498.3 L190.1 502.3 L187.3 506.0 L184.5 509.7 L181.7 513.2 L178.7 516.5 L175.8 519.7 L172.8 522.8 L169.8 525.6 L166.7 528.4 L163.6 531.0 L160.4 533.4 L157.2 535.7 L154.0 537.8 L150.8 539.7 L147.5 541.5 L144.2 543.1 L140.9 544.5 L137.6 545.8 L134.3 546.9 L130.9 547.9 L127.5 548.6 L124.2 549.2 L120.8 549.7 L117.4 549.9 L114.0 550.0" stroke="#fff" stroke-width="2"/>
</g>
</g>
<g mask="url(#stripeEven)" fill="none">
<path d="M519 240 V432 Q519 468 540 481" stroke="#222" stroke-width="2.2"/>
<path d="M537 240 V322" stroke="#222" stroke-width="2"/>
<path d="M597.5 240 V322" stroke="#888" stroke-width="4"/>
<g clip-path="url(#potclip)"><path d="M611 240 V350 Q612 380 620 402 L642 472 M624 240 V335 Q626 365 634 392 L652 446 M637 240 V330 Q639 352 652 392" stroke="#bdbdbd" stroke-width="7"/></g>
<path d="M555 416 V472" stroke="#ddd" stroke-width="6"/>
<path d="M574.5 416 V472" stroke="#444" stroke-width="3"/>
<rect x="530" y="349" width="69.5" height="57" rx="14" stroke="#888" stroke-width="2.5"/>
</g>
<path d="M537 340 H599" stroke="#777" stroke-width="2.4" fill="none"/>
<path d="M537 404.5 H592" stroke="#8a8a8a" stroke-width="5" fill="none"/>
<path d="M533 481 H646" stroke="#222" stroke-width="1.6" fill="none"/>
<g mask="url(#stripeEven)">
<rect x="624" y="112" width="24" height="128" fill="#000"/>
<rect x="512" y="160" width="6.5" height="80" fill="#fff"/><rect x="518.5" y="160" width="1.5" height="80" fill="#000"/>
<g clip-path="url(#boxclip)" fill="none" stroke="#fff" stroke-width="3">
<path d="M647 106 L644.4 116 L640 132 L635.5 148 L631 164 L627.3 180 L623.5 196 L621.3 212 L619.5 228 L618.3 240"/>
<path d="M649 156 L646.7 164 L644.4 180 L641.5 196 L638.5 212 L636.2 228 L635 240"/>
</g>
<path d="M593 204 V240 M541.5 204 V224" stroke="#bbb" stroke-width="1.6" fill="none"/>
</g>
<path d="M376 557.3 H502 A64 64 0 0 0 566 493.3 V165" fill="none" stroke="#00ffff" stroke-width="14.4"/>
<rect x="541" y="101.5" width="51" height="66" rx="9" fill="#00ffff"/>
<circle cx="548" cy="188.3" r="11.8" fill="#00ffff"/><circle cx="584.5" cy="188.3" r="11.8" fill="#00ffff"/>
<path d="M541 196 Q542 193 546 193 H586 Q590 193 591 196" fill="none" stroke="#006a70" stroke-width="1.3"/>
<rect x="568.5" y="194" width="4.7" height="47" fill="#00a0a8" opacity="0.6"/>
<rect x="390" y="552" width="58" height="11" fill="#d90000"/><circle cx="418.7" cy="557.4" r="16.2" fill="#d90000"/>
<rect x="572.8" y="910" width="54.1" height="41.6" rx="10" fill="#00ffff"/><rect x="629" y="925.2" width="14.8" height="11.4" fill="#00ffff"/><circle cx="643.6" cy="916" r="10" fill="#00ffff"/><circle cx="643.6" cy="945.5" r="10" fill="#00ffff"/>
<rect x="1025" y="928.3" width="72" height="4.8" fill="#00ffff"/>
<rect x="1043.4" y="977" width="37.6" height="7.2" fill="#d90000"/><circle cx="1061.7" cy="980.7" r="10.8" fill="#d90000"/>
</svg>
</body></html>
